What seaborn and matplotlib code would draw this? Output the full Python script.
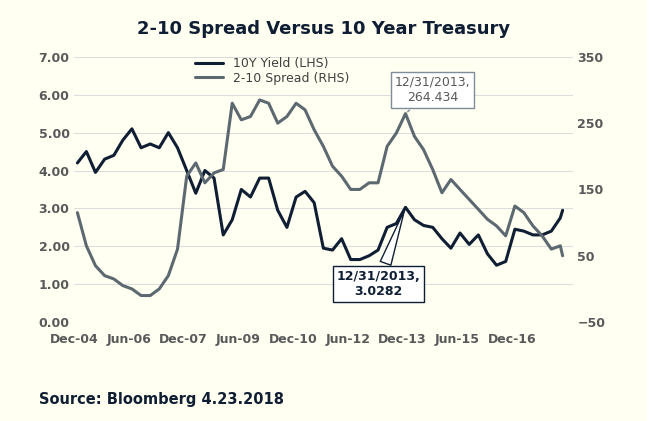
import matplotlib
matplotlib.use("Agg")
import matplotlib.pyplot as plt
import seaborn as sns
import pandas as pd
import numpy as np

dates = list(pd.date_range("2004-12-31", "2018-03-31", freq="QE")) + [pd.Timestamp("2018-04-23")]
yield10 = [4.2,4.5,3.95,4.3,4.4,4.8,5.1,4.6,4.7,4.6,5.0,4.6,4.0,3.4,4.0,3.8,2.3,2.7,3.5,3.3,3.8,3.8,2.95,2.5,3.3,3.45,3.15,1.95,1.9,2.2,1.65,1.65,1.75,1.9,2.5,2.6,3.0282,2.7,2.55,2.5,2.2,1.95,2.35,2.05,2.3,1.8,1.5,1.6,2.45,2.4,2.3,2.3,2.4,2.75,2.95]
spread = [115,65,35,20,15,5,0,-10,-10,0,20,60,170,190,160,175,180,280,255,260,285,280,250,260,280,270,240,215,185,170,150,150,160,160,215,235,264.434,230,210,180,145,165,150,135,120,105,95,80,125,115,95,80,60,65,50]
xticks = pd.date_range("2004-12-01", "2016-12-01", freq="18MS")
xticklabels = ["Dec-04","Jun-06","Dec-07","Jun-09","Dec-10","Jun-12","Dec-13","Jun-15","Dec-16"]

df = pd.DataFrame({"date": dates, "y": yield10, "s": spread})
bg = "#FFFFF2"
sns.set_style("white")
fig = plt.figure(figsize=(6.47, 4.21), dpi=100, facecolor=bg)
ax = fig.add_axes([0.115, 0.235, 0.77, 0.63], facecolor=bg)
ax2 = ax.twinx()
c1, c2 = "#0F1E33", "#5D6970"
sns.lineplot(data=df, x="date", y="y", ax=ax, color=c1, lw=2.2, label="10Y Yield (LHS)", legend=False)
sns.lineplot(data=df, x="date", y="s", ax=ax2, color=c2, lw=2.2, label="2-10 Spread (RHS)", legend=False)
ax.set_ylim(0, 7); ax.set_yticks(np.arange(0, 7.01, 1))
ax.set_yticklabels([f"{v:.2f}" for v in np.arange(0, 7.01, 1)])
ax2.set_ylim(-50, 350); ax2.set_yticks(range(-50, 351, 100))
ax.set_xlim(pd.Timestamp("2004-12-01"), pd.Timestamp("2018-08-01"))
ax.set_xticks(xticks); ax.set_xticklabels(xticklabels)
ax.yaxis.grid(True, color="#DDDDDD", lw=0.8); ax.set_axisbelow(True)
for a in (ax, ax2):
    for sp in a.spines.values(): sp.set_visible(False)
    a.set_xlabel(""); a.set_ylabel("")
    a.tick_params(length=0, labelsize=9, labelcolor="#595959")
    for t in a.get_xticklabels() + a.get_yticklabels(): t.set_fontweight("bold")
ax.tick_params(axis="x", pad=8)
h1, l1 = ax.get_legend_handles_labels(); h2, l2 = ax2.get_legend_handles_labels()
leg = ax.legend(h1+h2, l1+l2, loc="upper left", bbox_to_anchor=(0.22, 1.04), frameon=False, fontsize=9,
                handlelength=2.2, labelspacing=0.1)
for t in leg.get_texts(): t.set_color("#404040")
fig.text(0.5, 0.92, "2-10 Spread Versus 10 Year Treasury", ha="center", fontsize=13, fontweight="bold", color="#0F1E33")
fig.text(0.06, 0.04, "Source: Bloomberg 4.23.2018", fontsize=10.5, fontweight="bold", color="#0F1E33")
d = pd.Timestamp("2013-12-31")
ax2.annotate("12/31/2013,\n264.434", xy=(d, 264.434), xytext=(pd.Timestamp("2014-10-01"), 300),
             ha="center", va="center", fontsize=9, color="#595959",
             bbox=dict(boxstyle="square,pad=0.3", fc="white", ec="#7F8C99"),
             arrowprops=dict(arrowstyle="-", color="#7F8C99", lw=1))
ax.annotate("12/31/2013,\n3.0282", xy=(d, 3.0282), xytext=(pd.Timestamp("2013-04-01"), 1.0),
            ha="center", va="center", fontsize=9, fontweight="bold", color="#0F1E33",
            bbox=dict(boxstyle="square,pad=0.3", fc="white", ec="#0F1E33"),
            arrowprops=dict(arrowstyle="wedge,tail_width=0.9", fc="white", ec="#0F1E33"))
fig.savefig("out.png", dpi=100, facecolor=bg)
